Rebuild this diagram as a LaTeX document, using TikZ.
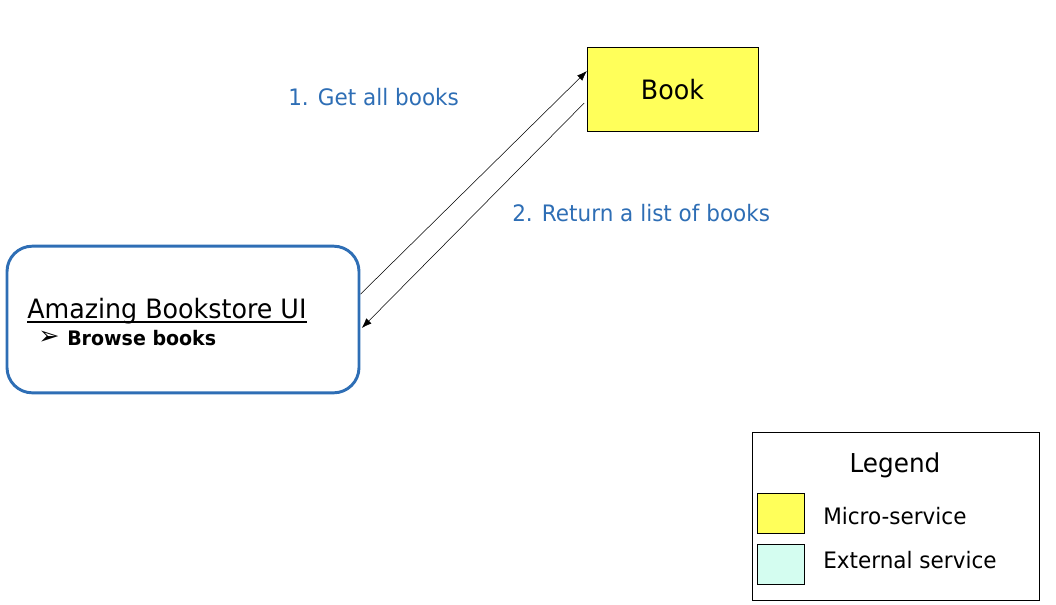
\documentclass[tikz,border=0pt]{standalone}
\usepackage{fontspec}
\setmainfont[FakeStretch=0.95]{DejaVu Sans}
\newfontfamily\symfont{DejaVu Sans}
\usetikzlibrary{arrows.meta}
\definecolor{uiblue}{HTML}{2E6EB5}
\definecolor{msyellow}{HTML}{FFFF5A}
\definecolor{extcyan}{HTML}{D4FDF0}
\tikzset{
  msg/.style={text=uiblue, font=\fontsize{17pt}{20pt}\selectfont, anchor=west, inner sep=0pt},
  call/.style={-{Latex[length=7.5pt,width=5.5pt]}, thin},
  swatch/.style={draw, minimum width=35pt, minimum height=30pt, inner sep=0pt},
  legendtext/.style={anchor=west, inner sep=0pt, font=\fontsize{17pt}{20pt}\selectfont}
}
\begin{document}
\begin{tikzpicture}[x=0.75pt, y=-0.75pt]
    \useasboundingbox (0, 0) rectangle (1056, 604);

    \node (ui) [draw=uiblue, line width=2.2pt, rounded corners=19pt, minimum width=264pt, minimum height=110pt] at (183, 319.5) {};
    \node (uititle) [anchor=base west, inner sep=0pt, font=\fontsize{20pt}{24pt}\selectfont] at (27, 318) {Amazing Bookstore UI};
    \draw [line width=1.3pt] (27, 322) -- (uititle.east |- 0, 322);
    \node (bullet) [anchor=west, inner sep=0pt, font=\fontsize{19pt}{20pt}\selectfont] at (38, 338) {\symfont ➢};
    \node (browse) [anchor=west, inner sep=0pt, font=\fontsize{15pt}{18pt}\selectfont\bfseries] at (67, 338) {Browse books};

    \node (book) [draw, fill=msyellow, minimum width=128pt, minimum height=63pt, text depth=0pt, font=\fontsize{20pt}{24pt}\selectfont] at (672.5, 89) {Book};

    \node (get) [msg] at (288, 97) {1. Get all books};
    \node (ret) [msg] at (512, 213) {2. Return a list of books};
    \draw [call] ([yshift=19pt]ui.east) -- ([yshift=13.5pt]book.west);
    \draw [call] ([yshift=-10.5pt, xshift=-2pt]book.west) -- ([yshift=-6.4pt, xshift=1pt]ui.east);

    \draw (752, 432) -- (1039, 432) -- (1039, 600) -- (752, 600) -- (752, 432);
    \node (legend) [font=\fontsize{19.5pt}{23pt}\selectfont] at (895, 465) {Legend};
    \node (ms) [swatch, fill=msyellow] at (780.5, 513) {};
    \node (ext) [swatch, fill=extcyan] at (780.5, 564) {};
    \node (mstext) [legendtext] at (823, 516) {Micro-service};
    \node (exttext) [legendtext] at (823, 560) {External service};
  \end{tikzpicture}
\end{document}
